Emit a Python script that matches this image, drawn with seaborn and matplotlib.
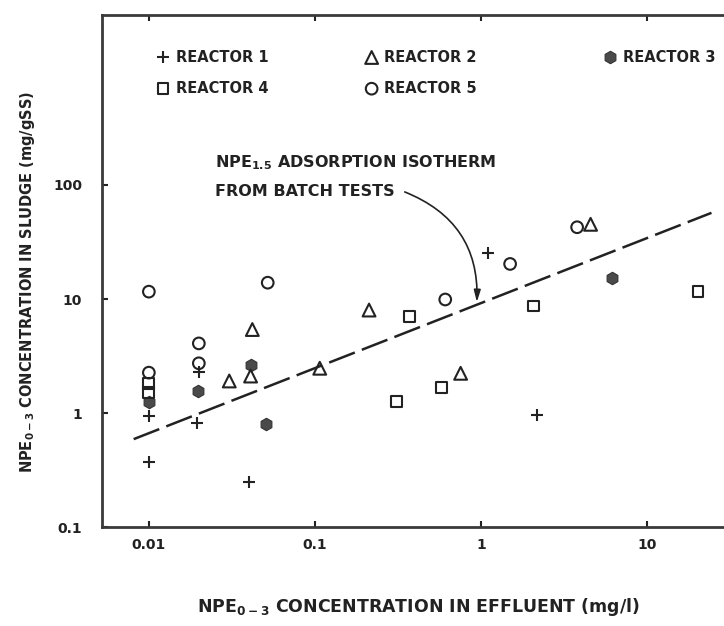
import matplotlib
matplotlib.use('Agg')
import matplotlib.pyplot as plt
import seaborn as sns
import pandas as pd


# values: effluent (mg/l) vs sludge (mg/gSS)
r1_x = [0.01, 0.01, 0.0195, 0.020, 0.040, 1.11, 2.18]
r1_y = [0.95, 0.37, 0.81, 2.30, 0.25, 25.5, 0.97]
r2_x = [0.0305, 0.042, 0.041, 0.107, 0.212, 0.755, 4.58]
r2_y = [1.91, 5.4, 2.11, 2.47, 8.0, 2.23, 45.2]
r3_x = [0.01, 0.0198, 0.041, 0.051, 6.15]
r3_y = [1.26, 1.56, 2.64, 0.80, 15.2]
r4_x = [0.01, 0.01, 0.31, 0.37, 0.58, 2.07, 20.3]
r4_y = [1.82, 1.52, 1.27, 7.0, 1.67, 8.7, 11.6]
r5_x = [0.01, 0.01, 0.020, 0.020, 0.052, 0.61, 1.50, 3.80]
r5_y = [11.6, 2.26, 4.08, 2.73, 13.9, 9.9, 20.3, 42.6]

# batch test isotherm (straight line on log-log)
iso_x = [0.0081, 24.5]
iso_y = [0.59, 57.0]

x_ticks = [0.01, 0.1, 1, 10]
x_tick_labels = ['0.01', '0.1', '1', '10']
y_ticks = [0.1, 1, 10, 100]
y_tick_labels = ['0.1', '1', '10', '100']

reactor_names = ['REACTOR 1', 'REACTOR 2', 'REACTOR 3', 'REACTOR 4', 'REACTOR 5']

sns.set_style('white')
plt.rcParams['font.family'] = ['DejaVu Sans']
plt.rcParams['font.weight'] = 'bold'
plt.rcParams['mathtext.fontset'] = 'dejavusans'
plt.rcParams['mathtext.default'] = 'bf'

ink = '#222222'

fig = plt.figure(figsize=(7.24, 6.26), dpi=100)
# axes run slightly past the right edge of the canvas, like the scan
ax = fig.add_axes([0.1405, 0.1581, 0.865, 0.818])

df = pd.concat([
    pd.DataFrame({'x': r1_x, 'y': r1_y, 'reactor': reactor_names[0]}),
    pd.DataFrame({'x': r2_x, 'y': r2_y, 'reactor': reactor_names[1]}),
    pd.DataFrame({'x': r3_x, 'y': r3_y, 'reactor': reactor_names[2]}),
    pd.DataFrame({'x': r4_x, 'y': r4_y, 'reactor': reactor_names[3]}),
    pd.DataFrame({'x': r5_x, 'y': r5_y, 'reactor': reactor_names[4]}),
])

# marker style for each reactor
styles = {
    'REACTOR 1': dict(marker='+', s=85, color=ink, linewidth=1.5),
    'REACTOR 2': dict(marker='^', s=85, facecolor='none', edgecolor=ink, linewidth=1.5),
    'REACTOR 3': dict(marker='h', s=80, color='#4a4a4a', edgecolor='#333333', linewidth=0.8),
    'REACTOR 4': dict(marker='s', s=60, facecolor='none', edgecolor=ink, linewidth=1.5),
    'REACTOR 5': dict(marker='o', s=70, facecolor='none', edgecolor=ink, linewidth=1.5),
}

sns.lineplot(x=iso_x, y=iso_y, ax=ax, color=ink, linewidth=1.8,
             linestyle=(0, (11, 3)), zorder=2)

for name in ['REACTOR 3', 'REACTOR 4', 'REACTOR 5', 'REACTOR 2', 'REACTOR 1']:
    sub = df[df['reactor'] == name]
    sns.scatterplot(data=sub, x='x', y='y', ax=ax, legend=False, zorder=3, **styles[name])

ax.set_xscale('log')
ax.set_yscale('log')
ax.set_xlim(0.0052, 30.8)
ax.set_ylim(0.1, 3100)

ax.xaxis.set_major_locator(matplotlib.ticker.FixedLocator(x_ticks))
ax.xaxis.set_major_formatter(matplotlib.ticker.FixedFormatter(x_tick_labels))
ax.yaxis.set_major_locator(matplotlib.ticker.FixedLocator(y_ticks))
ax.yaxis.set_major_formatter(matplotlib.ticker.FixedFormatter(y_tick_labels))
ax.xaxis.set_minor_locator(matplotlib.ticker.NullLocator())
ax.yaxis.set_minor_locator(matplotlib.ticker.NullLocator())

ax.tick_params(axis='x', which='major', direction='in', length=4, width=1.5,
               top=True, bottom=True, pad=8, labelsize=10, colors=ink)
ax.tick_params(axis='y', which='major', direction='in', length=4, width=1.5,
               left=True, right=False, pad=14, labelsize=10, colors=ink)
for lbl in ax.get_xticklabels() + ax.get_yticklabels():
    lbl.set_fontweight('bold')

for side in ['left', 'bottom', 'top']:
    ax.spines[side].set_linewidth(2)
    ax.spines[side].set_color('#3a3a3a')
ax.spines['right'].set_visible(False)

ax.set_xlabel('')
ax.set_ylabel('')

# legend drawn as a block of symbols and names inside the frame
legend_pos = {
    'REACTOR 1': (0.098, 0.917),
    'REACTOR 2': (0.431, 0.917),
    'REACTOR 3': (0.812, 0.917),
    'REACTOR 4': (0.098, 0.856),
    'REACTOR 5': (0.431, 0.856),
}
for name, (lx, ly) in legend_pos.items():
    ax.scatter([lx], [ly], transform=ax.transAxes, clip_on=False, zorder=4, **styles[name])
    ax.text(lx + 0.02, ly, name, transform=ax.transAxes, ha='left', va='center',
            fontsize=10.5, fontweight='bold', color=ink)

# isotherm label and curved arrow
ax.text(0.025, 144, r'NPE$_{1.5}$ ADSORPTION ISOTHERM', ha='left', va='baseline',
        fontsize=11.5, fontweight='bold', color=ink)
ax.text(0.025, 80, 'FROM BATCH TESTS', ha='left', va='baseline',
        fontsize=11.5, fontweight='bold', color=ink)
ax.annotate('', xy=(0.946, 9.4), xytext=(0.348, 86.9),
            arrowprops=dict(arrowstyle='-|>,head_length=0.7,head_width=0.2',
                            connectionstyle='arc3,rad=-0.35', lw=1.2, color=ink,
                            shrinkA=0, shrinkB=0))

fig.text(28 / 724, 1 - 282 / 626, r'NPE$_{0-3}$ CONCENTRATION IN SLUDGE (mg/gSS)',
         rotation=90, ha='center', va='center', fontsize=10.5, fontweight='bold', color=ink)
fig.text(418 / 724, 1 - 607 / 626, r'NPE$_{0-3}$ CONCENTRATION IN EFFLUENT (mg/l)',
         ha='center', va='center', fontsize=12.5, fontweight='bold', color=ink)

fig.savefig('out.png', dpi=100, facecolor='white')
